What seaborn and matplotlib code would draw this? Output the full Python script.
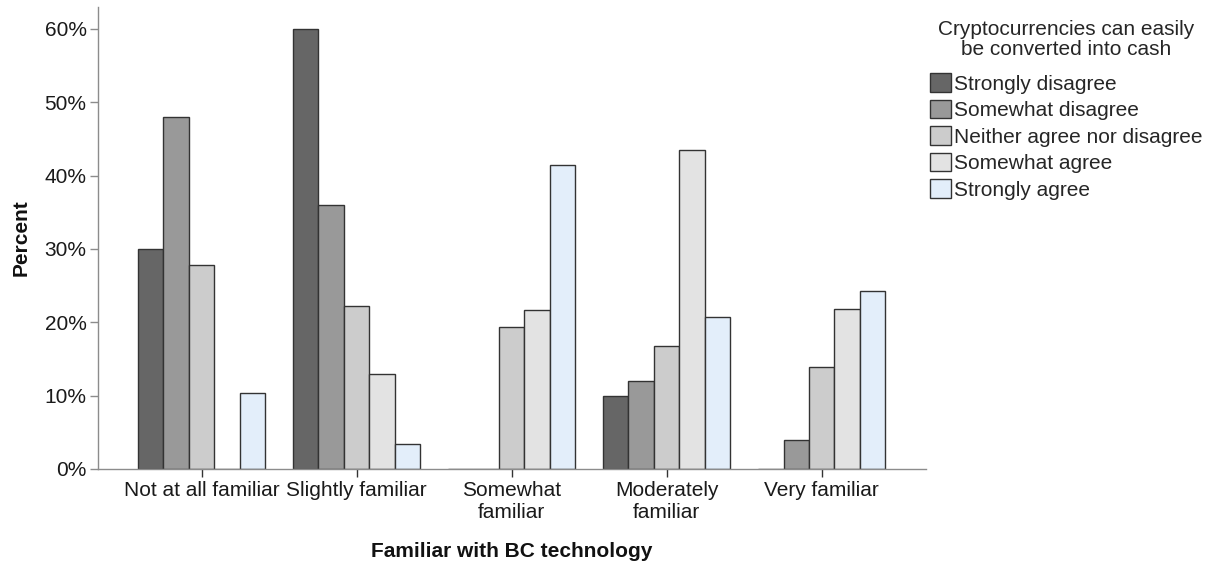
import matplotlib
matplotlib.use("Agg")
import matplotlib.pyplot as plt
import seaborn as sns
import pandas as pd
from matplotlib.ticker import FuncFormatter
from matplotlib.patches import Patch

categories = ["Not at all familiar", "Slightly familiar", "Somewhat\nfamiliar",
              "Moderately\nfamiliar", "Very familiar"]
responses = ["Strongly disagree", "Somewhat disagree", "Neither agree nor disagree",
             "Somewhat agree", "Strongly agree"]
strongly_disagree = [30.0, 60.0, 0.0, 10.0, 0.0]
somewhat_disagree = [48.0, 36.0, 0.0, 12.0, 4.0]
neither = [27.8, 22.2, 19.4, 16.7, 13.9]
somewhat_agree = [0.0, 13.0, 21.7, 43.5, 21.8]
strongly_agree = [10.3, 3.4, 41.4, 20.7, 24.2]
yticks = [0, 10, 20, 30, 40, 50, 60]

colors = ["#666666", "#999999", "#cccccc", "#e3e3e3", "#e3eefa"]

series = [strongly_disagree, somewhat_disagree, neither, somewhat_agree, strongly_agree]
rows = []
for resp, vals in zip(responses, series):
    for cat, v in zip(categories, vals):
        rows.append({"Familiar": cat, "Response": resp, "Percent": v})
df = pd.DataFrame(rows)

sns.set_theme(style="white")
plt.rcParams["font.family"] = ["Liberation Sans", "DejaVu Sans"]

fig = plt.figure(figsize=(12.21, 5.67), dpi=100)
ax = fig.add_axes([0.080, 0.173, 0.678, 0.815])

sns.barplot(data=df, x="Familiar", y="Percent", hue="Response",
            order=categories, hue_order=responses, palette=colors,
            width=0.82, gap=0, edgecolor="#333333", linewidth=1.0,
            saturation=1, ax=ax, legend=False, errorbar=None)

ax.set_xlim(-0.67, 4.67)
ax.set_ylim(0, 63.0)
ax.set_yticks(yticks)
ax.yaxis.set_major_formatter(FuncFormatter(lambda v, p: f"{int(v)}%"))

for s in ["top", "right"]:
    ax.spines[s].set_visible(False)
for s in ["left", "bottom"]:
    ax.spines[s].set_color("#8c8c8c")
    ax.spines[s].set_linewidth(1.0)

ax.tick_params(axis="y", which="major", left=True, length=6, width=1,
               color="#8c8c8c", labelsize=15, labelcolor="#1a1a1a", pad=2)
ax.tick_params(axis="x", which="major", bottom=True, length=6, width=1,
               color="#333333", labelsize=15, labelcolor="#1a1a1a", pad=3)
for lab in ax.get_xticklabels():
    lab.set_linespacing(1.15)

ax.set_ylabel("Percent", fontsize=15, fontweight="bold", color="#111111", labelpad=10)
ax.set_xlabel("Familiar with BC technology", fontsize=15, fontweight="bold",
              color="#111111", labelpad=15)

handles = [Patch(facecolor=c, edgecolor="#333333", linewidth=1.0) for c in colors]
leg = fig.legend(handles, responses,
                 title="Cryptocurrencies can easily\nbe converted into cash",
                 loc="upper left", bbox_to_anchor=(0.755, 0.979), frameon=False,
                 fontsize=15, title_fontsize=15, handlelength=1.0, handleheight=1.0,
                 handletextpad=0.15, labelspacing=0.29, borderaxespad=0)
leg.get_title().set_multialignment("center")
leg.get_title().set_linespacing(1.08)
leg._legend_box.align = "center"
leg._legend_box.sep = 10.0

fig.savefig("out.png", dpi=100)
